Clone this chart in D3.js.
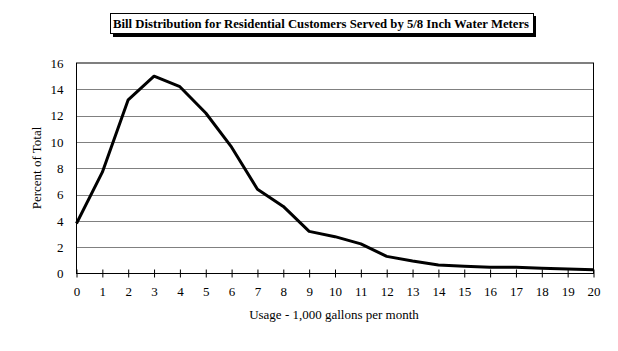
<!DOCTYPE html>
<html>
<head>
<meta charset="utf-8">
<script src="https://cdn.jsdelivr.net/npm/d3@7"></script>
<style>
  body { margin: 0; background: #fff; }
</style>
</head>
<body>
<script>
let width = 618,
    height = 351

// data
const usage = [0, 1, 2, 3, 4, 5, 6, 7, 8, 9, 10, 11, 12, 13, 14, 15, 16, 17, 18, 19, 20]
const percent = [3.8, 7.7, 13.2, 15.0, 14.2, 12.2, 9.6, 6.4, 5.1, 3.2, 2.8, 2.25, 1.3, 0.95, 0.65, 0.55, 0.48, 0.47, 0.4, 0.35, 0.28]
const yTicks = [0, 2, 4, 6, 8, 10, 12, 14, 16]

const title = 'Bill Distribution for Residential Customers Served by 5/8 Inch Water Meters'
const xTitle = 'Usage - 1,000 gallons per month'
const yTitle = 'Percent of Total'

const serif = '"Liberation Serif"'

let svg = d3.select('body').append('svg')
    .attr('width', width)
    .attr('height', height)

const plotLeft = 76.5, plotRight = 593.5, plotTop = 63, plotBottom = 273.5

let x = d3.scaleLinear().domain([0, 20]).range([plotLeft, plotRight])
let y = d3.scaleLinear().domain([0, 16]).range([plotBottom, plotTop])

// title box with shadow
svg.append('rect')
    .attr('x', 113).attr('y', 16)
    .attr('width', 423).attr('height', 21)
    .attr('fill', '#000')
svg.append('rect')
    .attr('x', 110.5).attr('y', 13.5)
    .attr('width', 423).attr('height', 20)
    .attr('fill', '#fff')
    .attr('stroke', '#000')
svg.append('text')
    .attr('x', 321).attr('y', 28)
    .attr('text-anchor', 'middle')
    .attr('textLength', 416)
    .attr('lengthAdjust', 'spacingAndGlyphs')
    .style('font-family', serif)
    .style('font-size', '13px')
    .style('font-weight', 'bold')
    .text(title)

// gridlines
svg.append('g')
  .selectAll('line')
  .data(yTicks.filter(d => d > 0 && d < 16))
  .join('line')
    .attr('x1', plotLeft).attr('x2', plotRight)
    .attr('y1', d => Math.round(y(d)) + 0.5)
    .attr('y2', d => Math.round(y(d)) + 0.5)
    .attr('stroke', '#808080')
    .attr('stroke-width', 1)

// plot border
svg.append('rect')
    .attr('x', plotLeft).attr('y', plotTop)
    .attr('width', plotRight - plotLeft).attr('height', plotBottom - plotTop)
    .attr('fill', 'none')
    .attr('stroke', '#000')

// x axis, ticks crossing the axis line
let xAxis = svg.append('g')
    .attr('transform', `translate(0,${plotBottom})`)
    .call(d3.axisBottom(x).tickValues(usage).tickFormat(d3.format('d')).tickSize(0))
xAxis.select('.domain').remove()
xAxis.selectAll('.tick').append('line')
    .attr('y1', -4).attr('y2', 4)
    .attr('stroke', '#000')
xAxis.selectAll('text')
    .attr('y', 13)
    .style('font-size', '13px')
    .style('font-family', serif)

let yAxis = svg.append('g')
    .attr('transform', `translate(${plotLeft},0)`)
    .call(d3.axisLeft(y).tickValues(yTicks).tickFormat(d3.format('d')).tickSize(0))
yAxis.select('.domain').remove()
yAxis.selectAll('text')
    .attr('x', -13)
    .style('font-size', '13px')
    .style('font-family', serif)

// axis titles
svg.append('text')
    .attr('x', 334).attr('y', 319)
    .attr('text-anchor', 'middle')
    .style('font-family', serif)
    .style('font-size', '13px')
    .text(xTitle)

svg.append('text')
    .attr('transform', 'translate(41,168) rotate(-90)')
    .attr('text-anchor', 'middle')
    .style('font-family', serif)
    .style('font-size', '13px')
    .text(yTitle)

// the line
let line = d3.line()
    .x((d, i) => x(usage[i]))
    .y(d => y(d))

svg.append('path')
    .datum(percent)
    .attr('d', line)
    .attr('fill', 'none')
    .attr('stroke', '#000')
    .attr('stroke-width', 3)
    .attr('stroke-linejoin', 'round')
</script>
</body>
</html>
